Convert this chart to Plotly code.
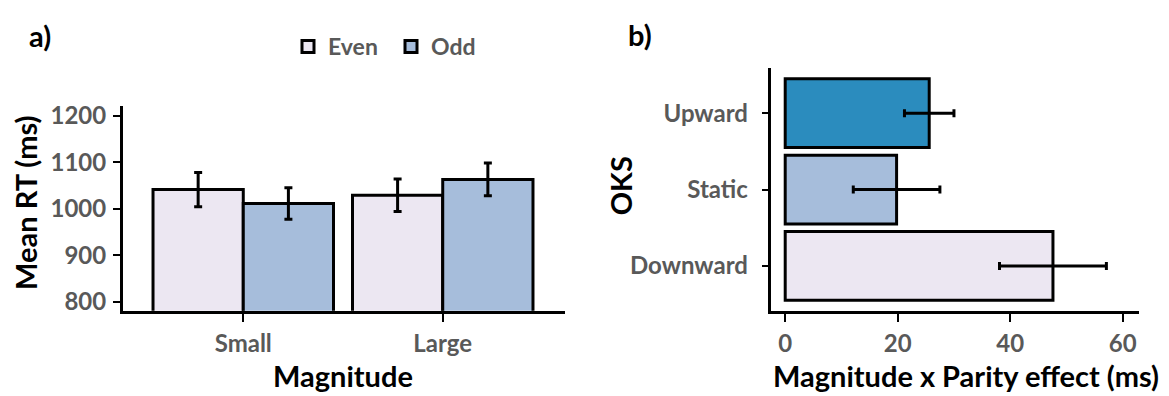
import plotly.graph_objects as go

# ---------------- data ----------------
magnitude = ["Small", "Large"]
even_rt = [1041, 1029]
even_err = [37, 35]
odd_rt = [1011, 1063]
odd_err = [34, 35]

oks = ["Downward", "Static", "Upward"]
effect = [47.6, 19.8, 25.6]
effect_err = [9.5, 7.7, 4.4]
oks_colors = ["#ece7f2", "#a6bddb", "#2b8cbe"]

rt_ticks = [800, 900, 1000, 1100, 1200]
effect_ticks = [0, 20, 40, 60]

# ---------------- style ----------------
W, H = 1169, 396
FONT = "Lato"
GRAY = "#595959"
EVEN_C = "#ece7f2"
ODD_C = "#a6bddb"


def fx(p):
    return p / W


def fy(p):
    return 1 - p / H


fig = go.Figure()

err_style = dict(type="data", thickness=3, width=4, color="black")

fig.add_trace(go.Bar(
    x=magnitude, y=even_rt, name="Even",
    marker=dict(color=EVEN_C, line=dict(color="black", width=3)),
    error_y=dict(array=even_err, **err_style),
    xaxis="x", yaxis="y",
))
fig.add_trace(go.Bar(
    x=magnitude, y=odd_rt, name="Odd",
    marker=dict(color=ODD_C, line=dict(color="black", width=3)),
    error_y=dict(array=odd_err, **err_style),
    xaxis="x", yaxis="y",
))
fig.add_trace(go.Bar(
    y=oks, x=effect, orientation="h", showlegend=False,
    marker=dict(color=oks_colors, line=dict(color="black", width=3)),
    error_x=dict(array=effect_err, **err_style),
    width=0.9,
    xaxis="x2", yaxis="y2",
))

tickfont = dict(family=FONT, size=24, color=GRAY, weight="bold")
axis_common = dict(
    showline=True, linewidth=3, linecolor="black",
    ticks="outside", tickwidth=2, tickcolor="black",
    showgrid=False, zeroline=False, tickfont=tickfont,
)

fig.update_layout(
    width=W, height=H,
    margin=dict(l=0, r=0, t=0, b=0),
    paper_bgcolor="white", plot_bgcolor="white",
    barmode="group", bargap=0.095, bargroupgap=0,
    font=dict(family=FONT),
    xaxis=dict(domain=[fx(123), fx(565)], anchor="y", range=[-0.603, 1.613],
               ticklen=8, ticklabelstandoff=1, **axis_common),
    yaxis=dict(domain=[fy(312.7), fy(103)], anchor="x", range=[780.3, 1220],
               tickvals=rt_ticks, ticklen=7, ticklabelstandoff=2, **axis_common),
    xaxis2=dict(domain=[fx(770.7), fx(1139.3)], anchor="y2", range=[-2.58, 62.95],
                tickvals=effect_ticks, ticklen=8, ticklabelstandoff=1, **axis_common),
    yaxis2=dict(domain=[fy(313.3), fy(63.3)], anchor="x2", range=[-0.595, 2.596],
                categoryorder="array", categoryarray=oks,
                ticklen=6, ticklabelstandoff=9, **axis_common),
    legend=dict(orientation="h", x=fx(288), xanchor="left", y=fy(41.5), yanchor="middle",
                entrywidth=58, entrywidthmode="pixels",
                font=dict(family=FONT, size=23, color=GRAY, weight="bold"),
                bgcolor="rgba(0,0,0,0)"),
)

title_font = dict(family=FONT, size=29, color="black", weight="bold")
annots = [
    dict(text="Mean RT (ms)", x=fx(26), y=fy(202), textangle=-90),
    dict(text="Magnitude", x=fx(343), y=fy(379)),
    dict(text="OKS", x=fx(620), y=fy(184), textangle=-90),
    dict(text="Magnitude x Parity effect (ms)", x=fx(966), y=fy(379)),
    dict(text="a)", x=fx(40), y=fy(30)),
    dict(text="b)", x=fx(640), y=fy(29)),
]
for a in annots:
    fig.add_annotation(xref="paper", yref="paper", showarrow=False,
                       xanchor="center", yanchor="middle", font=title_font, **a)

fig.write_html("out.html")
